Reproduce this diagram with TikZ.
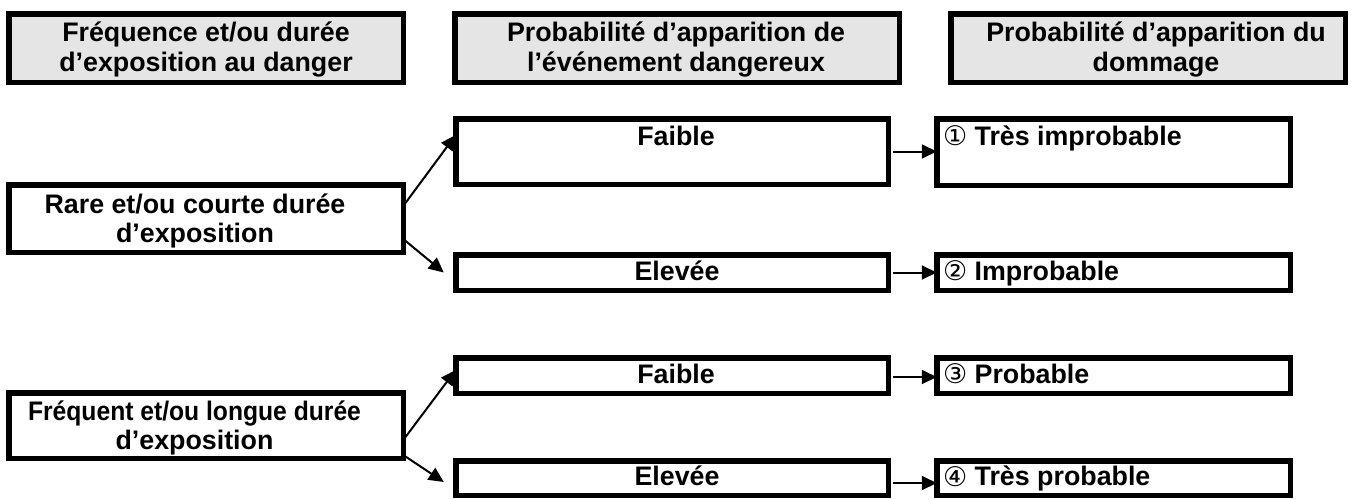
\documentclass[tikz,border=0pt]{standalone}
\usepackage{fontspec}
\setmainfont{Liberation Sans}
\newfontfamily\symfont{DejaVu Sans}
\usetikzlibrary{arrows.meta}
\newcommand{\circnum}[1]{{\fontsize{27}{27}\selectfont\symfont\mdseries\raisebox{-0.5pt}{#1}}}
\begin{document}
\begin{tikzpicture}[x=1pt,y=-1pt,
  every node/.style={inner sep=0pt, outer sep=0pt, font=\fontsize{26.8}{29.5}\selectfont\bfseries},
  hdr/.style={draw=black, line width=5.5pt, fill=gray!20},
  boxx/.style={draw=black, line width=5.5pt, fill=white},
  lbl/.style={align=center},
  conn/.style={line width=2pt, -{Triangle[length=15pt,width=14pt]}}]
\useasboundingbox (0,0) rectangle (1352,499);
% headers
\node[hdr, minimum width=394.5pt, minimum height=68.5pt] (h1) at (206,48) {};
\node[hdr, minimum width=444.5pt, minimum height=68.5pt] (h2) at (677,48) {};
\node[hdr, minimum width=394.5pt, minimum height=68.5pt] (h3) at (1148,48) {};
\node[lbl] (h1t) at (206,49.5) {Fréquence et/ou durée\\d’exposition au danger};
\node[lbl] (h2t) at (676,49.5) {Probabilité d’apparition de\\l’événement dangereux};
\node[lbl] (h3t) at (1156,49.5) {Probabilité d’apparition du\\dommage};
% left boxes
\node[boxx, minimum width=394.5pt, minimum height=67.5pt] (l1) at (206,218.5) {};
\node[boxx, minimum width=394.5pt, minimum height=65.5pt] (l2) at (206,425.5) {};
\node[lbl] (l1t) at (195,221) {Rare et/ou courte durée\\d’exposition};
\node[lbl] (l2t) at (194.5,428) {\scalebox{0.92}[1]{Fréquent et/ou longue durée}\\d’exposition};
% middle boxes
\node[boxx, minimum width=432.5pt, minimum height=65.5pt] (m1) at (672,151.5) {};
\node[boxx, minimum width=432.5pt, minimum height=35.5pt] (m2) at (672,272.5) {};
\node[boxx, minimum width=432.5pt, minimum height=35.5pt] (m3) at (672,375.5) {};
\node[boxx, minimum width=432.5pt, minimum height=34.5pt] (m4) at (672,478) {};
\node[anchor=base] (m1t) at (676,145) {Faible};
\node[anchor=base] (m2t) at (677,280) {Elevée};
\node[anchor=base] (m3t) at (676,383) {Faible};
\node[anchor=base] (m4t) at (677,485.5) {Elevée};
% right boxes
\node[boxx, minimum width=353.5pt, minimum height=66.5pt] (r1) at (1113.5,152) {};
\node[boxx, minimum width=353.5pt, minimum height=35.5pt] (r2) at (1113.5,272.5) {};
\node[boxx, minimum width=353.5pt, minimum height=35.5pt] (r3) at (1113.5,375.5) {};
\node[boxx, minimum width=353.5pt, minimum height=34.5pt] (r4) at (1113.5,478) {};
\node[anchor=base west] (r1t) at (943,145) {\circnum{①} Très improbable};
\node[anchor=base west] (r2t) at (943,280) {\circnum{②} Improbable};
\node[anchor=base west] (r3t) at (943,383) {\circnum{③} Probable};
\node[anchor=base west] (r4t) at (943,485.5) {\circnum{④} Très probable};
% connectors
\coordinate (s3) at ([xshift=4.5pt,yshift=-1.5pt]m3.east);
\coordinate (s4) at ([xshift=4.5pt,yshift=-5pt]m4.east);
\draw[conn] ([yshift=12.5pt]l1.east) -- ([yshift=16.5pt]m1.west);
\draw[conn] ([yshift=-20.5pt]l1.east) -- ([xshift=-12pt]m2.west);
\draw[conn] ([yshift=-14.5pt]l2.east) -- ([yshift=5.5pt]m3.west);
\draw[conn] ([yshift=-29.5pt]l2.east) -- ([xshift=-12pt,yshift=-4pt]m4.west);
\draw[conn] ([xshift=4.5pt]m1.east) -- (r1.west |- m1.east);
\draw[conn] ([xshift=4.5pt]m2.east) -- (r2.west |- m2.east);
\draw[conn] (s3) -- (r3.west |- s3);
\draw[conn] (s4) -- (r4.west |- s4);
\end{tikzpicture}
\end{document}
